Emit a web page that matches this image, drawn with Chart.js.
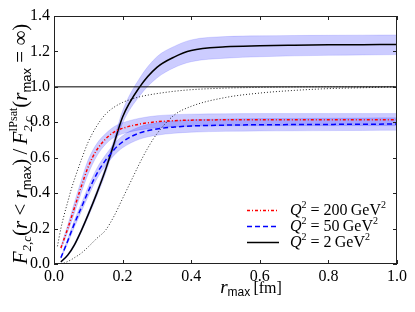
<!DOCTYPE html>
<html>
<head>
<meta charset="utf-8">
<script src="https://cdn.jsdelivr.net/npm/chart.js@4.4.1/dist/chart.umd.min.js"></script>
<style>
  html, body { margin: 0; padding: 0; background: #fff; }
  #wrap { width: 415px; height: 312px; }
</style>
</head>
<body>
<div id="wrap"><canvas id="grafico" width="415" height="312"></canvas></div>
<script>
// valores de r_max (fm) donde se evaluan las curvas
const rGrid = [0.02, 0.04, 0.06, 0.08, 0.1, 0.125, 0.15, 0.175, 0.2, 0.25, 0.3, 0.35, 0.4, 0.5, 0.6, 0.7, 0.8, 0.9, 1.0];

// Q^2 = 200 GeV^2
const q200   = [0.09, 0.20, 0.32, 0.44, 0.55, 0.645, 0.705, 0.745, 0.766, 0.79, 0.803, 0.809, 0.812, 0.814, 0.815, 0.815, 0.815, 0.815, 0.815];
const q200Lo = [0.08, 0.18, 0.29, 0.405, 0.51, 0.61, 0.675, 0.715, 0.735, 0.757, 0.769, 0.775, 0.778, 0.780, 0.781, 0.781, 0.781, 0.781, 0.781];
const q200Hi = [0.10, 0.22, 0.35, 0.475, 0.59, 0.68, 0.735, 0.775, 0.797, 0.823, 0.837, 0.843, 0.846, 0.848, 0.849, 0.849, 0.849, 0.849, 0.849];

// Q^2 = 50 GeV^2
const q50   = [0.035, 0.13, 0.23, 0.32, 0.41, 0.51, 0.585, 0.645, 0.69, 0.74, 0.762, 0.773, 0.779, 0.784, 0.786, 0.787, 0.788, 0.789, 0.79];
const q50Lo = [0.03, 0.117, 0.21, 0.297, 0.383, 0.48, 0.555, 0.613, 0.656, 0.705, 0.727, 0.738, 0.744, 0.749, 0.751, 0.752, 0.753, 0.754, 0.755];
const q50Hi = [0.04, 0.143, 0.25, 0.343, 0.437, 0.54, 0.615, 0.677, 0.724, 0.775, 0.797, 0.808, 0.814, 0.819, 0.821, 0.822, 0.823, 0.824, 0.825];

// Q^2 = 2 GeV^2
const q2   = [0.012, 0.05, 0.11, 0.19, 0.28, 0.40, 0.53, 0.68, 0.83, 1.00, 1.11, 1.168, 1.205, 1.226, 1.232, 1.235, 1.237, 1.238, 1.239];
const q2Lo = [0.009, 0.044, 0.102, 0.18, 0.267, 0.383, 0.51, 0.655, 0.795, 0.95, 1.05, 1.108, 1.142, 1.162, 1.17, 1.175, 1.178, 1.18, 1.182];
const q2Hi = [0.015, 0.056, 0.118, 0.2, 0.293, 0.417, 0.55, 0.705, 0.865, 1.05, 1.17, 1.228, 1.265, 1.284, 1.288, 1.29, 1.291, 1.292, 1.293];

// curvas punteadas de referencia
const rDotUp = [0.01, 0.02, 0.03, 0.04, 0.05, 0.06, 0.08, 0.1, 0.125, 0.15, 0.175, 0.2, 0.225, 0.25, 0.275, 0.3, 0.35, 0.4, 0.5, 0.6, 0.7, 0.8, 0.9, 1.0];
const dotUpper = [0.10, 0.20, 0.28, 0.35, 0.42, 0.48, 0.59, 0.69, 0.78, 0.845, 0.885, 0.912, 0.93, 0.944, 0.954, 0.962, 0.975, 0.984, 0.993, 0.997, 0.999, 1.0, 1.0, 1.0];
const rDotLow = [0.02, 0.03, 0.04, 0.05, 0.06, 0.08, 0.1, 0.125, 0.15, 0.175, 0.2, 0.225, 0.25, 0.275, 0.3, 0.35, 0.4, 0.5, 0.6, 0.7, 0.8, 0.9, 1.0];
const dotLower = [0.0, 0.006, 0.014, 0.024, 0.036, 0.062, 0.097, 0.145, 0.19, 0.27, 0.37, 0.47, 0.57, 0.66, 0.735, 0.84, 0.89, 0.94, 0.965, 0.98, 0.99, 0.995, 1.0];

// linea de referencia en 1
const rUnity = [0.0, 1.0];
const unity = [1.0, 1.0];

const xTicks = [0.0, 0.2, 0.4, 0.6, 0.8, 1.0];
const yTicks = [0.0, 0.2, 0.4, 0.6, 0.8, 1.0, 1.2, 1.4];

const legendItems = [
    { num: '200', color: '#ff0000', dash: [3, 2, 1, 2], width: 1.5 },
    { num: '50', color: '#0000ff', dash: [5, 3], width: 1.5 },
    { num: '2', color: '#000000', dash: [], width: 1.5 }
];

const SERIF = '"Liberation Serif", "DejaVu Serif", serif';
const SANS = '"Liberation Sans", "DejaVu Sans", sans-serif';
const BAND = 'rgba(0, 0, 255, 0.2)';

function puntos(xs, ys) {
    return xs.map((x, i) => ({ x: x, y: ys[i] }));
}

function linea(xs, ys, color, dash, width, orden) {
    return {
        data: puntos(xs, ys),
        borderColor: color,
        borderDash: dash,
        borderWidth: width,
        pointRadius: 0,
        fill: false,
        cubicInterpolationMode: 'monotone',
        order: orden
    };
}

function banda(xs, ys, relleno) {
    return {
        data: puntos(xs, ys),
        borderColor: 'rgba(0, 0, 255, 0.12)',
        borderWidth: 1,
        backgroundColor: BAND,
        pointRadius: 0,
        fill: relleno,
        cubicInterpolationMode: 'monotone',
        order: 10
    };
}

// texto con subindices / superindices
function medirTrozos(ctx, trozos) {
    let x = 0, prevX = 0, prevW = 0;
    const items = [];
    for (const t of trozos) {
        ctx.font = t.f;
        const w = ctx.measureText(t.t).width;
        if (t.stack) {
            items.push(Object.assign({}, t, { x: prevX }));
            prevW = Math.max(prevW, w);
            x = prevX + prevW;
        } else {
            items.push(Object.assign({}, t, { x: x }));
            prevX = x;
            prevW = w;
            x += w;
        }
    }
    return { items: items, width: x };
}

function dibujarTrozos(ctx, trozos, x0, y0, centrado) {
    const m = medirTrozos(ctx, trozos);
    const inicio = centrado ? x0 - m.width / 2 : x0;
    ctx.textBaseline = 'alphabetic';
    ctx.textAlign = 'left';
    m.items.forEach(it => {
        ctx.font = it.f;
        ctx.fillText(it.t, inicio + it.x, y0 + (it.dy || 0));
    });
    return m.width;
}

const decoracion = {
    id: 'decoracion',
    afterDraw(chart) {
        const ctx = chart.ctx;
        const a = chart.chartArea;
        const xs = chart.scales.x, ys = chart.scales.y;
        ctx.save();
        ctx.strokeStyle = '#222';
        ctx.lineWidth = 1;
        ctx.strokeRect(a.left + 0.5, a.top + 0.5, a.right - a.left - 1, a.bottom - a.top - 1);
        ctx.beginPath();
        xTicks.forEach(v => {
            const px = Math.round(xs.getPixelForValue(v)) + 0.5;
            ctx.moveTo(px, a.bottom); ctx.lineTo(px, a.bottom - 4);
            ctx.moveTo(px, a.top); ctx.lineTo(px, a.top + 4);
        });
        yTicks.forEach(v => {
            const py = Math.round(ys.getPixelForValue(v)) + 0.5;
            ctx.moveTo(a.left, py); ctx.lineTo(a.left + 4, py);
            ctx.moveTo(a.right, py); ctx.lineTo(a.right - 4, py);
        });
        ctx.stroke();

        ctx.fillStyle = '#000';
        // eje x
        dibujarTrozos(ctx, [
            { t: 'r', f: 'italic 19px ' + SERIF },
            { t: 'max', f: '12px ' + SANS, dy: 3 },
            { t: '\u2009[fm]', f: '16px ' + SERIF }
        ], 251, 293, true);

        // eje y (rotado)
        ctx.save();
        ctx.translate(27, 144);
        ctx.rotate(-Math.PI / 2);
        const fs = 21;
        const fi = 'italic ' + fs + 'px ' + SERIF;
        const fu = fs + 'px ' + SERIF;
        const fsub = 'italic 13px ' + SERIF;
        const fmax = '13px ' + SANS;
        const fsup = '12px ' + SERIF;
        dibujarTrozos(ctx, [
            { t: 'F', f: fi },
            { t: '2,c', f: fsub, dy: 4 },
            { t: '(', f: fu },
            { t: 'r', f: fi },
            { t: ' < ', f: fu },
            { t: 'r', f: fi },
            { t: 'max', f: fmax, dy: 4 },
            { t: ')\u2009/\u2009', f: fu },
            { t: 'F', f: fi },
            { t: '2,c', f: fsub, dy: 5 },
            { t: 'IPsat', f: fsup, dy: -10, stack: true },
            { t: '(', f: fu },
            { t: 'r', f: fi },
            { t: 'max', f: fmax, dy: 4 },
            { t: ' = \u221e)', f: fu }
        ], 0, 0, true);
        ctx.restore();

        // leyenda
        legendItems.forEach((li, i) => {
            const y = 210 + i * 16;
            ctx.save();
            ctx.strokeStyle = li.color;
            ctx.lineWidth = li.width;
            ctx.setLineDash(li.dash);
            ctx.beginPath();
            ctx.moveTo(247, y + 0.5);
            ctx.lineTo(279, y + 0.5);
            ctx.stroke();
            ctx.restore();
            dibujarTrozos(ctx, [
                { t: 'Q', f: 'italic 16px ' + SERIF },
                { t: '2', f: '10px ' + SERIF, dy: -7 },
                { t: ' = ' + li.num + '\u2009GeV', f: '16px ' + SERIF },
                { t: '2', f: '10px ' + SERIF, dy: -7 }
            ], 290, y + 5, false);
        });
        ctx.restore();
    }
};

const ctx = document.getElementById('grafico').getContext('2d');
new Chart(ctx, {
    type: 'line',
    data: {
        datasets: [
            linea(rGrid, q200, '#ff0000', [3, 2, 1, 2], 1.5, 1),
            linea(rGrid, q50, '#0000ff', [5, 3], 1.5, 1),
            linea(rGrid, q2, '#000000', [], 1.5, 1),
            linea(rDotUp, dotUpper, 'rgba(0,0,0,0.85)', [1, 2], 1, 2),
            linea(rDotLow, dotLower, 'rgba(0,0,0,0.85)', [1, 2], 1, 2),
            linea(rUnity, unity, '#000000', [], 1, 2),
            banda(rGrid, q200Lo, false),
            banda(rGrid, q200Hi, '-1'),
            banda(rGrid, q50Lo, false),
            banda(rGrid, q50Hi, '-1'),
            banda(rGrid, q2Lo, false),
            banda(rGrid, q2Hi, '-1')
        ]
    },
    options: {
        responsive: false,
        animation: false,
        devicePixelRatio: 1,
        layout: { padding: { left: 0, top: 16, right: 18, bottom: 0 } },
        plugins: {
            legend: { display: false },
            tooltip: { enabled: false }
        },
        scales: {
            x: {
                type: 'linear',
                min: 0, max: 1,
                afterBuildTicks: s => { s.ticks = xTicks.map(v => ({ value: v })); },
                afterFit: s => { s.height = 48; },
                grid: { display: false, drawTicks: false },
                border: { display: false },
                ticks: {
                    padding: 3,
                    color: '#000',
                    font: { family: SERIF, size: 16 },
                    maxRotation: 0,
                    callback: v => v.toFixed(1)
                }
            },
            y: {
                type: 'linear',
                min: 0, max: 1.4,
                afterBuildTicks: s => { s.ticks = yTicks.map(v => ({ value: v })); },
                afterFit: s => { s.width = 54; },
                grid: { display: false, drawTicks: false },
                border: { display: false },
                ticks: {
                    padding: 4,
                    color: '#000',
                    font: { family: SERIF, size: 16 },
                    callback: v => v.toFixed(1)
                }
            }
        }
    },
    plugins: [decoracion]
});
</script>
</body>
</html>
